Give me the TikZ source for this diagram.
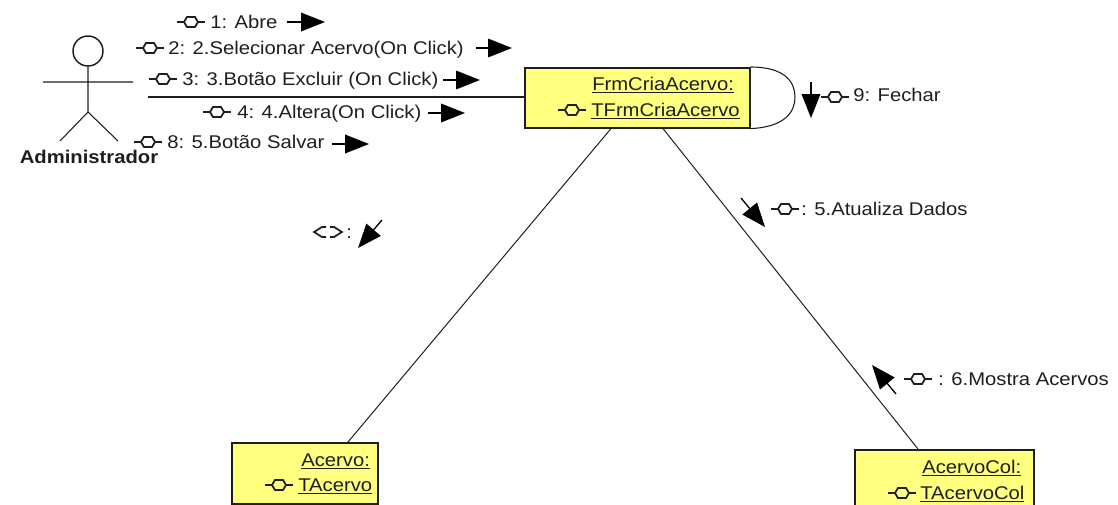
\documentclass[tikz,border=0pt]{standalone}
\usepackage{fontspec}
\setmainfont[FakeStretch=1.1]{Liberation Sans}
\usetikzlibrary{arrows.meta,calc}
\definecolor{boxfill}{RGB}{255,255,128}
\definecolor{ink}{RGB}{30,30,30}
\tikzset{
  x=0.75pt,y=-0.75pt,
  line/.style={draw=ink,line width=0.8pt},
  thinline/.style={draw=ink,line width=0.75pt},
  umlbox/.style={draw=ink,line width=1.2pt,fill=boxfill,anchor=north west,inner sep=0pt},
  lbl/.style={anchor=base west,inner sep=0pt,yshift=-0.75pt,text=ink,font=\fontsize{13.8}{16}\selectfont},
  msg/.style={draw=black,line width=1pt,-{Triangle[length=18pt,width=14pt]}},
  ifc/.pic={
    \draw[ink,line width=1.1pt] (-14,0)--(-7,0) (7,0)--(14,0);
    \draw[ink,line width=1.3pt] (-7,0)--(-4,-5)--(4,-5)--(7,0)--(4,5)--(-4,5)--cycle;
  },
  brokenifc/.pic={
    \draw[ink,line width=1.3pt] (-2,-5)--(-6,-5)--(-14,0)--(-6,5)--(-2,5);
    \draw[ink,line width=1.3pt] (2,-5)--(6,-5)--(14,0)--(6,5)--(2,5);
  }
}
\begin{document}
\begin{tikzpicture}
\useasboundingbox (0,0) rectangle (1118,504);
% boxes
\node[umlbox,minimum width=168.75pt,minimum height=45pt] (frm) at (524,67) {};
\node[umlbox,minimum width=109.5pt,minimum height=45.75pt] (ace) at (231,442) {};
\node[umlbox,minimum width=134.25pt,minimum height=48pt] (col) at (854,449) {};
% box text
\node[lbl] (frm1) at (592,89) {\underline{FrmCriaAcervo:}};
\node[lbl] (frm2) at (591,115) {\underline{TFrmCriaAcervo}};
\pic at (572,110) {ifc};
\node[lbl] (ace1) at (301,465) {\underline{Acervo:}};
\node[lbl] (ace2) at (298,490) {\underline{TAcervo}};
\pic at (279,485) {ifc};
\node[lbl] (col1) at (922,472) {\underline{AcervoCol:}};
\node[lbl] (col2) at (920,498) {\underline{TAcervoCol}};
\pic at (902,493) {ifc};
% actor
\node[draw=ink,line width=1.1pt,circle,minimum size=22.5pt,inner sep=0pt] (head) at (88,51) {};
\coordinate (hip) at (88,112);
\coordinate (armL) at (43,82);
\coordinate (armR) at (133,82);
\coordinate (legL) at (60,141);
\coordinate (legR) at (118,141);
\draw[line] (head.south)--(hip) (armL)--(armR) (legL)--(hip)--(legR);
\node[anchor=base,inner sep=0pt,text=ink,font=\fontsize{13.8}{16}\selectfont\bfseries] (actor) at (89,163) {Administrador};
% links
\coordinate (linkstart) at (148,97);
\draw[line,line width=1.1pt] (linkstart)--(linkstart -| frm.west);
\draw[thinline] ($(frm.south west)+(87,0)$)--($(ace.north west)+(117,0)$);
\draw[thinline] ($(frm.south west)+(139,0)$)--($(col.north west)+(64,0)$);
\draw[line] (frm.north east) .. controls (785,67) and (795,82) .. (795,97) .. controls (795,112) and (785,127) .. (frm.south east);
% messages
\pic at (191,22) {ifc};
\node[lbl] (m1) at (210,27) {1: Abre};
\coordinate (a1s) at (287,22); \coordinate (a1e) at (325,22);
\draw[msg] (a1s)--(a1e);
\pic at (150,48) {ifc};
\node[lbl] (m2) at (168,53) {2: 2.Selecionar Acervo(On Click)};
\coordinate (a2s) at (476,48); \coordinate (a2e) at (512,48);
\draw[msg] (a2s)--(a2e);
\pic at (163,79) {ifc};
\node[lbl] (m3) at (182,84) {3: 3.Botão Excluir (On Click)};
\coordinate (a3s) at (443,80); \coordinate (a3e) at (480,80);
\draw[msg] (a3s)--(a3e);
\pic at (217,112) {ifc};
\node[lbl] (m4) at (237,117) {4: 4.Altera(On Click)};
\coordinate (a4s) at (428,113); \coordinate (a4e) at (465,113);
\draw[msg] (a4s)--(a4e);
\pic at (148,142) {ifc};
\node[lbl] (m8) at (167,147) {8: 5.Botão Salvar};
\coordinate (a8s) at (332,144); \coordinate (a8e) at (369,144);
\draw[msg] (a8s)--(a8e);
% 9
\coordinate (a9s) at (811,82); \coordinate (a9e) at (811,118);
\draw[msg] (a9s)--(a9e);
\pic at (835,97) {ifc};
\node[lbl] (m9) at (853,100) {9: Fechar};
% 5
\coordinate (a5s) at (741,198); \coordinate (a5e) at (765,227);
\draw[msg] (a5s)--(a5e);
\pic at (785,209) {ifc};
\node[lbl] (m5) at (801,214) {: 5.Atualiza Dados};
% 6
\coordinate (a6s) at (896,394); \coordinate (a6e) at (872,365);
\draw[msg] (a6s)--(a6e);
\pic at (918,379) {ifc};
\node[lbl] (m6) at (938,384) {: 6.Mostra Acervos};
% unnamed
\coordinate (a0s) at (382,220); \coordinate (a0e) at (358,248);
\draw[msg] (a0s)--(a0e);
\pic at (328,232) {brokenifc};
\node[lbl] (m0) at (346,237) {:};
\end{tikzpicture}
\end{document}
